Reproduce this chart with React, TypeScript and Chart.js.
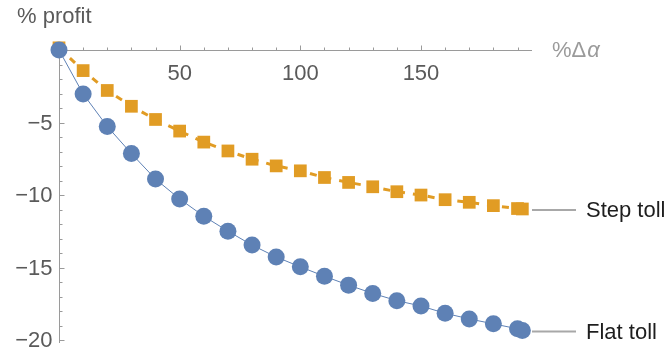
import { useEffect, useRef } from "react";
import { Chart, registerables } from "chart.js";

Chart.register(...registerables);

const xValues = [0, 10, 20, 30, 40, 50, 60, 70, 80, 90, 100, 110, 120, 130, 140, 150, 160, 170, 180, 190, 192];
const flatToll = [0, -3.03, -5.27, -7.14, -8.9, -10.27, -11.46, -12.49, -13.45, -14.27, -14.95, -15.6, -16.21, -16.78, -17.28, -17.65, -18.15, -18.54, -18.88, -19.22, -19.34];
const stepToll = [0.15, -1.42, -2.79, -3.88, -4.79, -5.59, -6.35, -6.96, -7.53, -7.99, -8.33, -8.79, -9.13, -9.43, -9.77, -10.0, -10.32, -10.5, -10.73, -10.93, -10.96];
const seriesNames = ["Step toll", "Flat toll"];
const xMajorTicks = [50, 100, 150];
const xMinorTicks = [10, 20, 30, 40, 60, 70, 80, 90, 110, 120, 130, 140, 160, 170, 180, 190];
const yMajorTicks = [-5, -10, -15, -20];
const yMinorTicks = [-1, -2, -3, -4, -6, -7, -8, -9, -11, -12, -13, -14, -16, -17, -18, -19];
const xTitle = "%Δα";
const yTitle = "% profit";

const BLUE = "#5e81b5";
const ORANGE = "#e19c24";
const FONT = "Liberation Sans, Arial, sans-serif";

const fmt = (v: number) => (v < 0 ? "\u2212" + Math.abs(v) : String(v));

const axesPlugin = {
  id: "mmaAxes",
  beforeDatasetsDraw(chart: any) {
    const { ctx } = chart;
    const x = chart.scales.x;
    const y = chart.scales.y;
    const x0 = Math.round(x.getPixelForValue(0)) + 0.5;
    const y0 = Math.round(y.getPixelForValue(0)) + 0.5;
    ctx.save();
    ctx.strokeStyle = "#9a9a9a";
    ctx.lineWidth = 1;
    ctx.beginPath();
    ctx.moveTo(x0, y0);
    ctx.lineTo(x.right, y0);
    ctx.moveTo(x0, y0);
    ctx.lineTo(x0, y.bottom);
    const tick = (vals: number[], len: number, horiz: boolean) => {
      for (const v of vals) {
        if (horiz) {
          const p = Math.round(x.getPixelForValue(v)) + 0.5;
          ctx.moveTo(p, y0);
          ctx.lineTo(p, y0 - len);
        } else {
          const p = Math.round(y.getPixelForValue(v)) + 0.5;
          ctx.moveTo(x0, p);
          ctx.lineTo(x0 + len, p);
        }
      }
    };
    tick(xMajorTicks, 5, true);
    tick(xMinorTicks, 3, true);
    tick(yMajorTicks, 5, false);
    tick(yMinorTicks, 3, false);
    ctx.stroke();

    ctx.fillStyle = "#5a5a5a";
    ctx.font = `22px ${FONT}`;
    ctx.textAlign = "center";
    ctx.textBaseline = "alphabetic";
    for (const v of xMajorTicks) {
      ctx.fillText(fmt(v), x.getPixelForValue(v), y0 + 29);
    }
    ctx.textAlign = "right";
    ctx.textBaseline = "middle";
    for (const v of yMajorTicks) {
      ctx.fillText(fmt(v), x0 - 7, y.getPixelForValue(v) + 1);
    }
    // titles
    ctx.textAlign = "left";
    ctx.textBaseline = "alphabetic";
    ctx.fillStyle = "#5a5a5a";
    ctx.fillText(yTitle, 17, 23);
    ctx.fillStyle = "#9a9a9a";
    const head = xTitle.slice(0, -1);
    const tail = xTitle.slice(-1);
    ctx.fillText(head, 552, 57);
    const w = ctx.measureText(head).width;
    ctx.font = `italic 22px ${FONT}`;
    ctx.fillText(tail, 552 + w + 1, 57);
    ctx.restore();
  },
  afterDatasetsDraw(chart: any) {
    const { ctx } = chart;
    const x = chart.scales.x;
    const y = chart.scales.y;
    ctx.save();
    const series = [stepToll, flatToll];
    series.forEach((data, i) => {
      const lastY = y.getPixelForValue(data[data.length - 1]) + 1;
      ctx.strokeStyle = "#a8a8a8";
      ctx.lineWidth = 2;
      ctx.beginPath();
      ctx.moveTo(x.right, lastY);
      ctx.lineTo(x.right + 44, lastY);
      ctx.stroke();
      ctx.fillStyle = "#1e1e1e";
      ctx.font = `22px ${FONT}`;
      ctx.textAlign = "left";
      ctx.textBaseline = "middle";
      ctx.fillText(seriesNames[i], x.right + 54, lastY + 1);
    });
    ctx.restore();
  },
};

export default function App() {
  const ref = useRef<HTMLCanvasElement>(null);
  useEffect(() => {
    if (!ref.current) return;
    const chart = new Chart(ref.current, {
      type: "scatter",
      data: {
        datasets: [
          {
            label: seriesNames[1],
            data: xValues.map((v, i) => ({ x: v, y: flatToll[i] })),
            showLine: true,
            borderColor: BLUE,
            borderWidth: 1,
            backgroundColor: BLUE,
            pointRadius: 8.5,
            pointBorderWidth: 0,
            pointStyle: "circle",
            clip: false,
          },
          {
            label: seriesNames[0],
            data: xValues.map((v, i) => ({ x: v, y: stepToll[i] })),
            showLine: true,
            borderColor: ORANGE,
            borderWidth: 3,
            borderDash: [7, 8],
            backgroundColor: ORANGE,
            pointRadius: 9,
            pointBorderWidth: 0,
            pointStyle: "rect",
            clip: false,
          },
        ],
      },
      options: {
        responsive: false,
        animation: false,
        layout: { padding: { left: 59, right: 135, top: 50, bottom: 7 } },
        plugins: { legend: { display: false }, tooltip: { enabled: false } },
        scales: {
          x: { type: "linear", min: 0, max: 196, display: false },
          y: { type: "linear", min: -20.2, max: 0, display: false },
        },
      },
      plugins: [axesPlugin],
    } as any);
    return () => chart.destroy();
  }, []);
  return (
    <div style={{ position: "absolute", left: 0, top: 0, width: 667, height: 352, background: "#fff" }}>
      <canvas ref={ref} width={667} height={352} />
    </div>
  );
}
